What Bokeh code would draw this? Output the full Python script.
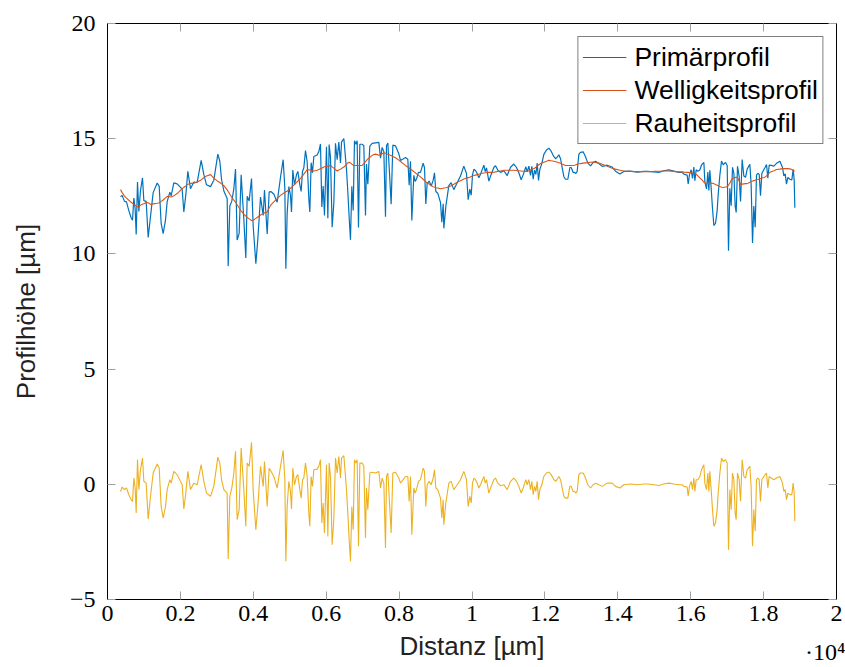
from bokeh.plotting import figure
from bokeh.models import Range1d, LinearAxis, FixedTicker, Legend, LegendItem, ColumnDataSource
from bokeh.embed import file_html
from bokeh.resources import INLINE

# ---- data ----
x_um = [
    357, 402, 466, 521, 585, 649, 686, 723, 759, 787,
    823, 860, 905, 960, 997, 1061, 1116, 1180, 1253, 1363,
    1418, 1472, 1527, 1591, 1637, 1710, 1747, 1820, 1911, 2048,
    2094, 2149, 2204, 2277, 2369, 2460, 2570, 2643, 2716, 2826,
    2917, 3027, 3082, 3128, 3192, 3283, 3311, 3356, 3411, 3466,
    3512, 3557, 3612, 3667, 3740, 3795, 3832, 3887, 3951, 3996,
    4070, 4124, 4198, 4271, 4307, 4381, 4435, 4490, 4563, 4655,
    4746, 4819, 4865, 4893, 4929, 4975, 5020, 5048, 5084, 5130,
    5185, 5222, 5276, 5313, 5350, 5386, 5432, 5478, 5523, 5551,
    5587, 5624, 5661, 5752, 5798, 5843, 5880, 5917, 5953, 6008,
    6045, 6081, 6118, 6163, 6209, 6255, 6301, 6346, 6392, 6420,
    6484, 6557, 6593, 6630, 6666, 6703, 6740, 6776, 6813, 6849,
    6886, 6923, 6986, 7032, 7078, 7105, 7142, 7197, 7261, 7352,
    7444, 7490, 7535, 7581, 7627, 7654, 7691, 7727, 7782, 7828,
    7901, 7993, 8038, 8111, 8175, 8239, 8276, 8313, 8349, 8404,
    8440, 8477, 8532, 8587, 8660, 8697, 8733, 8770, 8825, 8880,
    8934, 8971, 9008, 9062, 9136, 9172, 9209, 9227, 9282, 9364,
    9428, 9501, 9593, 9684, 9776, 9849, 9895, 9940, 9978, 10014,
    10051, 10097, 10142, 10188, 10234, 10289, 10325, 10362, 10398, 10462,
    10526, 10599, 10645, 10709, 10782, 10874, 10965, 11057, 11148, 11221,
    11285, 11349, 11404, 11477, 11514, 11560, 11605, 11642, 11679, 11715,
    11752, 11788, 11825, 11861, 11916, 11971, 12044, 12108, 12172, 12246,
    12300, 12383, 12429, 12474, 12520, 12566, 12630, 12685, 12721, 12776,
    12813, 12849, 12886, 12932, 12977, 13050, 13114, 13178, 13252, 13325,
    13389, 13480, 13572, 13709, 13846, 13937, 14056, 14166, 14349, 14532,
    14715, 14806, 14989, 15126, 15263, 15400, 15538, 15675, 15766, 15812,
    15903, 15931, 15967, 16013, 16050, 16086, 16114, 16150, 16196, 16251,
    16297, 16361, 16388, 16434, 16470, 16498, 16525, 16562, 16598, 16635,
    16681, 16726, 16754, 16800, 16845, 16891, 16955, 17001, 17037, 17074,
    17110, 17147, 17184, 17220, 17248, 17284, 17330, 17367, 17412, 17458,
    17504, 17549, 17623, 17659, 17696, 17732, 17769, 17805, 17842, 17879,
    17915, 17952, 18007, 18043, 18080, 18116, 18153, 18208, 18281, 18354,
    18446, 18482, 18519, 18555, 18592, 18628, 18665, 18720, 18775, 18811,
    18839, 18857,
]

rauheit = [
    -0.31, -0.12, -0.23, -0.16, -0.45, -0.67, -0.74, 0.27, -0.16, -1.24,
    1.07, -0.23, 0.63, 1.14, 0.13, 0.05, -1.51, -0.52, 0.49, 0.88,
    0.71, -0.96, -1.46, -0.96, -0.23, 0.2, 0.05, 0.56, 0.42, -0.02,
    -1.07, -0.38, 0.56, -0.23, 0.05, -0.02, 0.85, 0.13, -0.38, -0.52,
    -0.09, 1.18, 0.92, 0.2, -0.23, -0.38, -3.24, -0.52, -0.16, 0.49,
    1.43, -1.53, -1.1, 1.57, -0.23, -1.82, 0.92, 0.78, 1.82, -0.23,
    -1.97, -0.96, 0.78, -0.09, 0.99, -0.96, 0.7, 0.56, 0.34, -0.16,
    0.78, 1.47, 0.2, -3.34, -0.96, 0.13, -0.31, -1.07, 0.7, -0.02,
    0.34, 0.42, -0.23, -0.6, 0.2, 0.27, 0.92, 0.34, -1.25, -1.82,
    0.34, -0.09, 0.63, 0.66, 0.78, 1.07, -1.68, -0.81, -2.11, 0.85,
    -2.26, 0.92, 0.34, -2.62, -1.53, 1.14, 0.49, 1.21, 0.27, 1.14,
    1.24, -0.23, -1.25, -2.4, -3.34, -0.96, -1.97, 1.07, 0.92, 1.07,
    -2.69, 0.92, 0.92, 0.78, -2.33, -0.16, -1.1, 0.49, 0.52, 0.49,
    0.56, -0.16, 0.27, 0.05, -2.76, 0.34, 0.49, -0.52, -2.11, 0.49,
    0.52, 0.27, 0.05, 0.2, 0.34, 0.34, -0.74, 0.34, -2.19, -0.16,
    -0.38, -0.23, 0.13, 0.2, 0.7, 0.56, -0.96, -0.02, 0.13, -0.02,
    0.27, 0.63, -0.16, -0.23, -0.6, -1.46, -0.67, -1.75, -0.81, 0.05,
    0.13, -0.23, -0.02, 0.2, 0.56, 0.2, -0.96, -0.52, -0.81, 0.05,
    0.27, 0.2, 0.05, -0.16, -0.02, 0.2, 0.34, 0.05, 0.2, -0.38,
    -0.09, 0.2, 0.27, 0.05, -0.06, -0.02, -0.23, 0.13, 0.27, 0.13,
    -0.09, -0.38, -0.16, 0.2, -0.02, 0.2, -0.23, 0.13, -0.45, -0.09,
    -0.31, 0.13, -0.67, -0.23, -0.02, 0.34, 0.49, 0.53, 0.42, 0.2,
    0.13, 0.34, 0.2, -0.16, -0.52, -0.6, -0.6, -0.09, -0.09, -0.31,
    -0.31, -0.38, -0.31, 0.42, 0.49, 0.49, 0.27, -0.02, -0.16, -0.02,
    0.05, -0.02, -0.09, 0.05, 0.05, -0.09, -0.16, -0.02, 0.01, -0.02,
    0.01, 0.01, -0.02, -0.05, 0.01, 0.05, 0.01, -0.02, -0.02, -0.09,
    -0.12, -0.5, -0.09, 0.13, -0.23, 0.27, -0.31, 0.2, 0.2, 0.34,
    0.63, 0.85, 0.05, -0.23, 0.49, -0.31, 0.56, -0.23, -1.1, -1.82,
    -1.68, -1.1, -0.38, 0.49, 1.14, 0.99, 1.07, 0.92, -2.84, -0.23,
    -1.1, 0.49, 0.2, -1.25, -1.53, 0.49, 0.2, -0.74, 1.07, 0.34,
    0.27, 0.63, 0.78, -0.16, -2.69, -1.1, -2.04, 0.2, 0.27, 0.2,
    -0.74, 0.2, 0.34, 0.42, 0.49, -0.16, 0.34, 0.27, 0.2, 0.27,
    0.34, 0.2, 0.05, -0.31, -0.23, -0.67, -0.38, -0.45, -0.45, 0.05,
    -0.38, -1.6,
]

welligkeit = [
    12.79, 12.66, 12.51, 12.42, 12.33, 12.24, 12.20, 12.15, 12.11, 12.08,
    12.05, 12.07, 12.11, 12.16, 12.18, 12.23, 12.22, 12.15, 12.17, 12.20,
    12.22, 12.28, 12.34, 12.43, 12.50, 12.48, 12.47, 12.52, 12.62, 12.83,
    12.89, 12.95, 13.02, 13.06, 13.07, 13.12, 13.21, 13.31, 13.38, 13.44,
    13.29, 13.15, 13.10, 13.04, 12.96, 12.78, 12.71, 12.59, 12.46, 12.33,
    12.25, 12.13, 11.99, 11.86, 11.73, 11.64, 11.58, 11.52, 11.45, 11.46,
    11.54, 11.60, 11.69, 11.76, 11.78, 11.82, 11.99, 12.14, 12.26, 12.40,
    12.54, 12.62, 12.67, 12.70, 12.72, 12.79, 12.85, 12.89, 12.94, 13.01,
    13.10, 13.16, 13.24, 13.31, 13.39, 13.46, 13.56, 13.66, 13.65, 13.64,
    13.62, 13.61, 13.60, 13.63, 13.66, 13.70, 13.72, 13.76, 13.78, 13.80,
    13.81, 13.83, 13.84, 13.78, 13.72, 13.66, 13.60, 13.64, 13.68, 13.71,
    13.77, 13.89, 13.95, 13.98, 13.95, 13.90, 13.85, 13.84, 13.84, 13.84,
    13.84, 13.84, 13.84, 13.92, 14.00, 14.06, 14.12, 14.19, 14.28, 14.33,
    14.28, 14.31, 14.35, 14.39, 14.37, 14.35, 14.32, 14.30, 14.27, 14.23,
    14.17, 14.07, 14.01, 13.92, 13.84, 13.77, 13.72, 13.68, 13.64, 13.57,
    13.53, 13.48, 13.41, 13.34, 13.24, 13.18, 13.13, 13.08, 13.03, 12.97,
    12.92, 12.89, 12.87, 12.86, 12.83, 12.84, 12.85, 12.86, 12.87, 12.91,
    12.96, 13.02, 13.11, 13.18, 13.25, 13.29, 13.31, 13.33, 13.36, 13.38,
    13.40, 13.42, 13.44, 13.46, 13.48, 13.50, 13.51, 13.52, 13.53, 13.54,
    13.54, 13.55, 13.56, 13.58, 13.60, 13.63, 13.63, 13.63, 13.63, 13.62,
    13.61, 13.60, 13.59, 13.58, 13.58, 13.61, 13.64, 13.67, 13.69, 13.72,
    13.76, 13.81, 13.86, 13.90, 13.94, 13.98, 14.02, 14.06, 14.04, 14.02,
    14.00, 13.96, 13.93, 13.90, 13.87, 13.84, 13.84, 13.84, 13.84, 13.84,
    13.85, 13.87, 13.89, 13.91, 13.92, 13.94, 13.95, 13.96, 13.98, 13.99,
    13.97, 13.94, 13.89, 13.80, 13.72, 13.68, 13.63, 13.60, 13.58, 13.57,
    13.57, 13.57, 13.58, 13.59, 13.60, 13.60, 13.58, 13.56, 13.56, 13.55,
    13.54, 13.54, 13.53, 13.52, 13.51, 13.50, 13.49, 13.45, 13.39, 13.30,
    13.23, 13.12, 13.08, 13.05, 13.06, 13.06, 13.07, 13.08, 13.07, 13.05,
    13.01, 12.98, 12.96, 12.93, 12.89, 12.88, 12.90, 12.92, 12.98, 13.08,
    13.19, 13.27, 13.30, 13.32, 13.33, 13.31, 13.16, 13.02, 13.03, 13.04,
    13.05, 13.05, 13.11, 13.14, 13.16, 13.18, 13.20, 13.22, 13.23, 13.25,
    13.27, 13.29, 13.32, 13.34, 13.39, 13.45, 13.51, 13.57, 13.61, 13.66,
    13.68, 13.69, 13.70, 13.70, 13.70, 13.70, 13.70, 13.69, 13.66, 13.62,
    13.60, 13.60,
]

x_ticks = [0, 2000, 4000, 6000, 8000, 10000, 12000, 14000, 16000, 18000, 20000]
x_tick_labels = ["0", "0.2", "0.4", "0.6", "0.8", "1", "1.2", "1.4", "1.6", "1.8", "2"]
y_ticks = [-5, 0, 5, 10, 15, 20]
y_tick_labels = ["\u22125", "0", "5", "10", "15", "20"]
series_names = ["Primärprofil", "Welligkeitsprofil", "Rauheitsprofil"]
x_exponent_label = "\u00b710\u2074"
x_exponent_pos = 19700

n = min(len(x_um), len(rauheit), len(welligkeit))
x_um, rauheit, welligkeit = x_um[:n], rauheit[:n], welligkeit[:n]
primaer = [w + r for w, r in zip(welligkeit, rauheit)]

src = ColumnDataSource(dict(x=x_um, p=primaer, w=welligkeit, r=rauheit))

SERIF = "Liberation Serif"
SANS = "Liberation Sans"

p = figure(width=845, height=667, x_range=Range1d(0, 20000), y_range=Range1d(-5, 20),
           output_backend="svg", toolbar_location=None,
           min_border_left=107, min_border_right=9, min_border_top=23, min_border_bottom=67)
p.background_fill_color = "white"
p.border_fill_color = "white"
p.outline_line_color = "black"
p.outline_line_width = 1
p.xgrid.visible = False
p.ygrid.visible = False

def style_axis(ax, labels=True):
    ax.axis_line_color = "black"
    ax.major_tick_in = 8
    ax.major_tick_out = 0
    ax.major_tick_line_color = "#a0a0a0"
    ax.major_tick_line_width = 1
    ax.minor_tick_line_color = None
    ax.major_label_text_font = SERIF
    ax.major_label_text_color = "black"
    if labels:
        ax.major_label_text_font_size = "24px"
    else:
        ax.major_label_text_font_size = "1px"
        ax.major_label_text_color = None
        ax.major_label_standoff = 0

xa = p.xaxis[0]
xa.ticker = FixedTicker(ticks=x_ticks)
xa.major_label_overrides = {t: l for t, l in zip(x_ticks, x_tick_labels)}
style_axis(xa)
xa.major_label_standoff = 6
xa.axis_label = "Distanz [µm]"
xa.axis_label_text_font = SANS
xa.axis_label_text_font_size = "26px"
xa.axis_label_text_font_style = "normal"
xa.axis_label_text_color = "#222222"
xa.axis_label_standoff = 7

# second axis below, without line or ticks: it only carries the ·10^4 exponent,
# pulled up (negative standoff) onto the line of the axis title
xb = LinearAxis(ticker=FixedTicker(ticks=[x_exponent_pos]))
xb.major_label_overrides = {x_exponent_pos: x_exponent_label}
xb.axis_line_color = None
xb.major_tick_line_color = None
xb.minor_tick_line_color = None
xb.major_tick_in = 0
xb.major_tick_out = 0
xb.major_label_standoff = -25
xb.major_label_text_font = SERIF
xb.major_label_text_font_size = "24px"
xb.major_label_text_color = "black"
p.add_layout(xb, "below")

ya = p.yaxis[0]
ya.ticker = FixedTicker(ticks=y_ticks)
ya.major_label_overrides = {t: l for t, l in zip(y_ticks, y_tick_labels)}
style_axis(ya)
ya.major_label_standoff = 12
ya.axis_label = "Profilhöhe [µm]"
ya.axis_label_text_font = SANS
ya.axis_label_text_font_size = "26px"
ya.axis_label_text_font_style = "normal"
ya.axis_label_text_color = "#222222"
ya.axis_label_standoff = 26

top_ax = LinearAxis(ticker=FixedTicker(ticks=x_ticks))
style_axis(top_ax, labels=False)
p.add_layout(top_ax, "above")
right_ax = LinearAxis(ticker=FixedTicker(ticks=y_ticks))
style_axis(right_ax, labels=False)
p.add_layout(right_ax, "right")

r1 = p.line("x", "p", source=src, line_color="#0072BD", line_width=1.2)
r2 = p.line("x", "w", source=src, line_color="#D95319", line_width=1.1)
r3 = p.line("x", "r", source=src, line_color="#EDB120", line_width=1.1)

legend = Legend(items=[LegendItem(label=series_names[0], renderers=[r1]),
                       LegendItem(label=series_names[1], renderers=[r2]),
                       LegendItem(label=series_names[2], renderers=[r3])],
                location="top_right")
legend.margin = 13
legend.padding = 4
legend.spacing = 1
legend.glyph_width = 44
legend.glyph_height = 32
legend.label_height = 32
legend.label_standoff = 8
legend.label_text_font = SANS
legend.label_text_font_size = "26.5px"
legend.label_text_color = "black"
legend.border_line_color = "black"
legend.border_line_width = 1
legend.background_fill_color = "white"
legend.background_fill_alpha = 1.0
p.add_layout(legend, "center")

open("out.html", "w").write(file_html(p, INLINE))
